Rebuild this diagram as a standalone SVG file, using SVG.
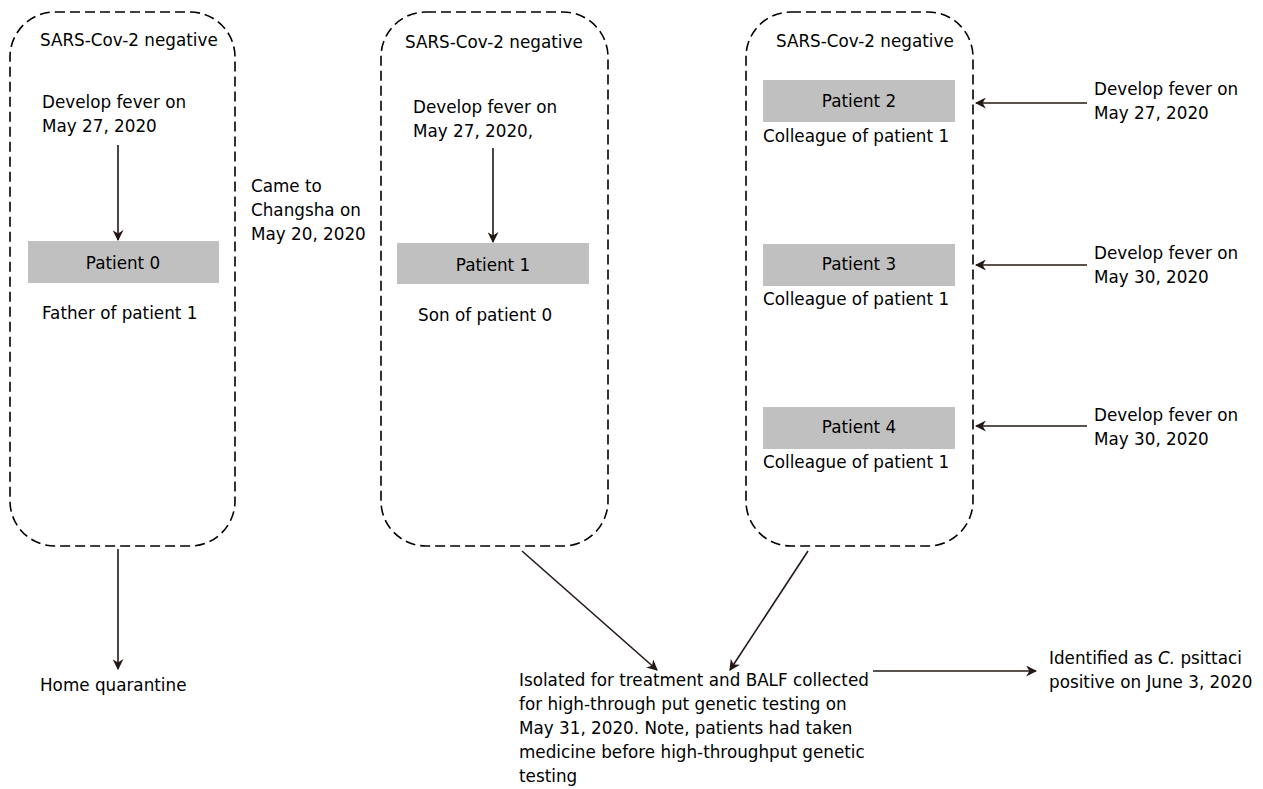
<svg xmlns="http://www.w3.org/2000/svg" width="1263" height="789" viewBox="0 0 1263 789">
<defs>
<marker id="ah" viewBox="0 0 10 10" refX="9" refY="5" markerWidth="11" markerHeight="11" markerUnits="userSpaceOnUse" orient="auto">
<path d="M0,0 L10,5 L0,10 L3,5 Z" fill="#231815"/>
</marker>
<style>
text{font-family:"DejaVu Sans",Verdana,sans-serif;font-size:16.8px;fill:#000}
.box{fill:none;stroke:#000;stroke-width:1.6;stroke-dasharray:10,5}
.pt{fill:#c0c0c0}
.c{text-anchor:middle}
.ln{stroke:#231815;stroke-width:1.6;fill:none;marker-end:url(#ah)}
</style>
</defs>
<rect width="1263" height="789" fill="#fff"/>
<g id="box1">
<rect class="box" x="10" y="12" width="225" height="534" rx="45" ry="45"/>
<text x="40" y="46">SARS-Cov-2 negative</text>
<text x="42" y="108">Develop fever on</text>
<text x="42" y="132">May 27, 2020</text>
<rect class="pt" x="28" y="241" width="191" height="42"/>
<text class="c" x="123" y="269">Patient 0</text>
<text x="42" y="319">Father of patient 1</text>
</g>
<g id="came">
<text x="251" y="192">Came to</text>
<text x="251" y="216">Changsha on</text>
<text x="251" y="240">May 20, 2020</text>
</g>
<g id="box2">
<rect class="box" x="381" y="12" width="227" height="534" rx="45" ry="45"/>
<text x="405" y="48">SARS-Cov-2 negative</text>
<text x="413" y="113">Develop fever on</text>
<text x="413" y="137">May 27, 2020,</text>
<rect class="pt" x="397" y="243" width="192" height="41"/>
<text class="c" x="493" y="271">Patient 1</text>
<text x="418" y="321">Son of patient 0</text>
</g>
<g id="box3">
<rect class="box" x="746" y="12" width="227" height="534" rx="45" ry="45"/>
<text x="776" y="47">SARS-Cov-2 negative</text>
<rect class="pt" x="763" y="80" width="192" height="42"/>
<text class="c" x="859" y="107">Patient 2</text>
<text x="763" y="142">Colleague of patient 1</text>
<rect class="pt" x="763" y="244" width="192" height="42"/>
<text class="c" x="859" y="270">Patient 3</text>
<text x="763" y="305">Colleague of patient 1</text>
<rect class="pt" x="763" y="407" width="192" height="42"/>
<text class="c" x="859" y="433">Patient 4</text>
<text x="763" y="468">Colleague of patient 1</text>
</g>
<g id="fever2">
<text x="1094" y="95">Develop fever on</text>
<text x="1094" y="119">May 27, 2020</text>
</g>
<g id="fever3">
<text x="1094" y="259">Develop fever on</text>
<text x="1094" y="283">May 30, 2020</text>
</g>
<g id="fever4">
<text x="1094" y="421">Develop fever on</text>
<text x="1094" y="445">May 30, 2020</text>
</g>
<g id="home">
<text x="40" y="691">Home quarantine</text>
</g>
<g id="isolated">
<text x="519" y="686">Isolated for treatment and BALF collected</text>
<text x="519" y="710">for high-through put genetic testing on</text>
<text x="519" y="734">May 31, 2020. Note, patients had taken</text>
<text x="519" y="758">medicine before high-throughput genetic</text>
<text x="519" y="782">testing</text>
</g>
<g id="identified">
<text x="1049" y="664">Identified as <tspan font-style="italic">C.</tspan> psittaci</text>
<text x="1049" y="688">positive on June 3, 2020</text>
</g>
<g id="connectors">
<line class="ln" x1="118" y1="145" x2="118" y2="240"/>
<line class="ln" x1="493" y1="148" x2="493" y2="242"/>
<line class="ln" x1="1087" y1="103" x2="976" y2="103"/>
<line class="ln" x1="1087" y1="265" x2="976" y2="265"/>
<line class="ln" x1="1087" y1="426" x2="976" y2="426"/>
<line class="ln" x1="118" y1="549" x2="118" y2="669"/>
<line class="ln" x1="522" y1="551" x2="657" y2="670"/>
<line class="ln" x1="808" y1="551" x2="730" y2="670"/>
<line class="ln" x1="873" y1="671" x2="1036" y2="671"/>
</g>
</svg>
